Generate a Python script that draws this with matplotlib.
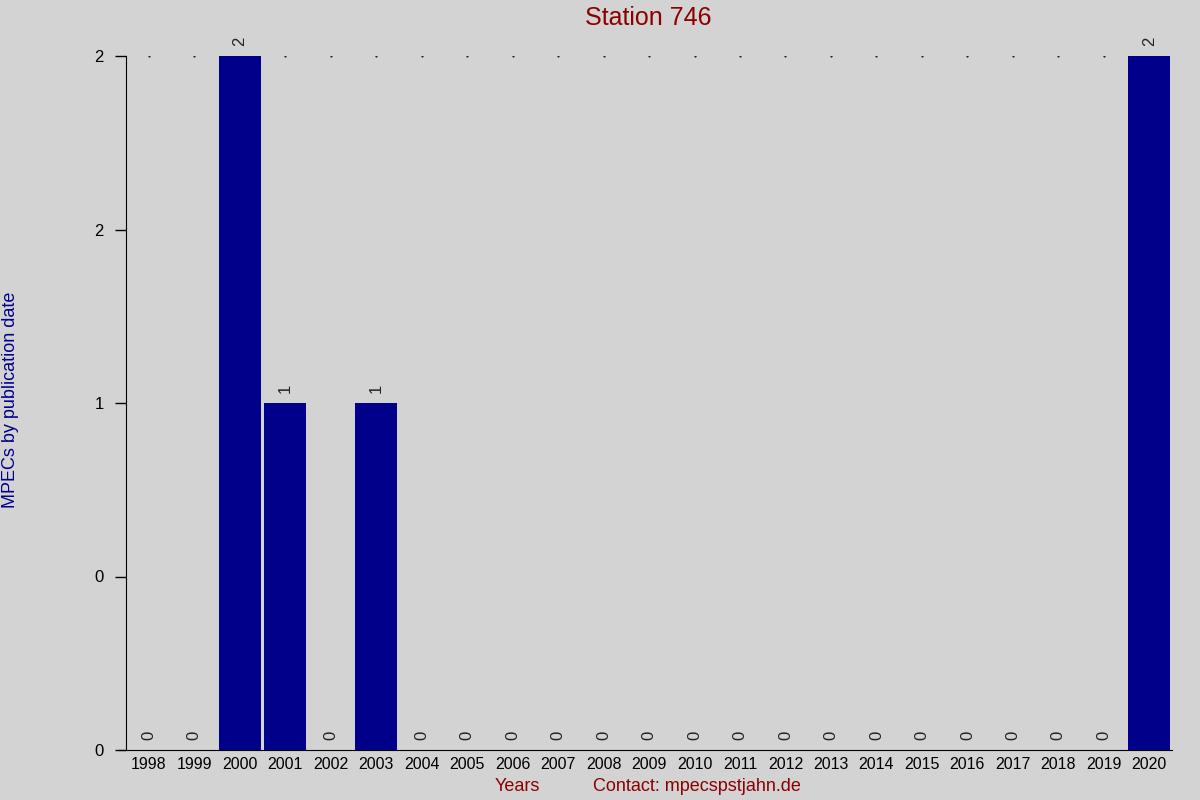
import matplotlib
matplotlib.use('Agg')
import matplotlib.pyplot as plt
import numpy as np

years = [str(y) for y in range(1998, 2021)]
counts = [0, 0, 2, 1, 0, 1, 0, 0, 0, 0, 0, 0, 0, 0, 0, 0, 0, 0, 0, 0, 0, 0, 2]
ytick_vals = [0, 0.5, 1, 1.5, 2]
ytick_labels = ['0', '0', '1', '2', '2']

plt.rcParams['font.family'] = ['Liberation Sans', 'DejaVu Sans']
bg = '#d3d3d3'

fig = plt.figure(figsize=(12, 8), dpi=100, facecolor=bg)
ax = fig.add_axes([0.105, 0.0625, 0.8717, 0.8675], facecolor=bg)

x = np.arange(len(years))
# dotted top line
ax.plot(x, [max(counts)] * len(x), linestyle='none', marker='.', markersize=1.0, color='black', zorder=1)
ax.bar(x, counts, width=0.92, color='#00008b', zorder=2)
for xi, c in zip(x, counts):
    ax.text(xi, c + 0.03, str(c), rotation=90, ha='center', va='bottom', fontsize=12, color='#222222')

ax.set_xlim(-0.5, len(years) - 0.5)
ax.set_ylim(0, 2)
ax.set_xticks(x)
ax.set_xticklabels(years, fontsize=11.5)
ax.set_yticks(ytick_vals)
ax.set_yticklabels(ytick_labels, fontsize=12)
ax.tick_params(axis='x', length=0, pad=5)
ax.tick_params(axis='y', length=8, width=1, pad=8)
for s in ['top', 'right']:
    ax.spines[s].set_visible(False)
ax.spines['bottom'].set_bounds(-0.68, len(years) - 0.5)

fig.text(0.54, 0.9775, 'Station 746', ha='center', va='center', fontsize=18, color='#8b0000')
fig.text(0.0085, 0.5, 'MPECs by publication date', rotation=90, ha='center', va='center',
         fontsize=13, color='#00008b')
fig.text(0.431, 0.017, 'Years', ha='center', va='center', fontsize=13, color='#8b0000')
fig.text(0.581, 0.017, 'Contact: mpecspstjahn.de', ha='center', va='center', fontsize=13, color='#8b0000')

fig.savefig('out.png', dpi=100, facecolor=bg)
